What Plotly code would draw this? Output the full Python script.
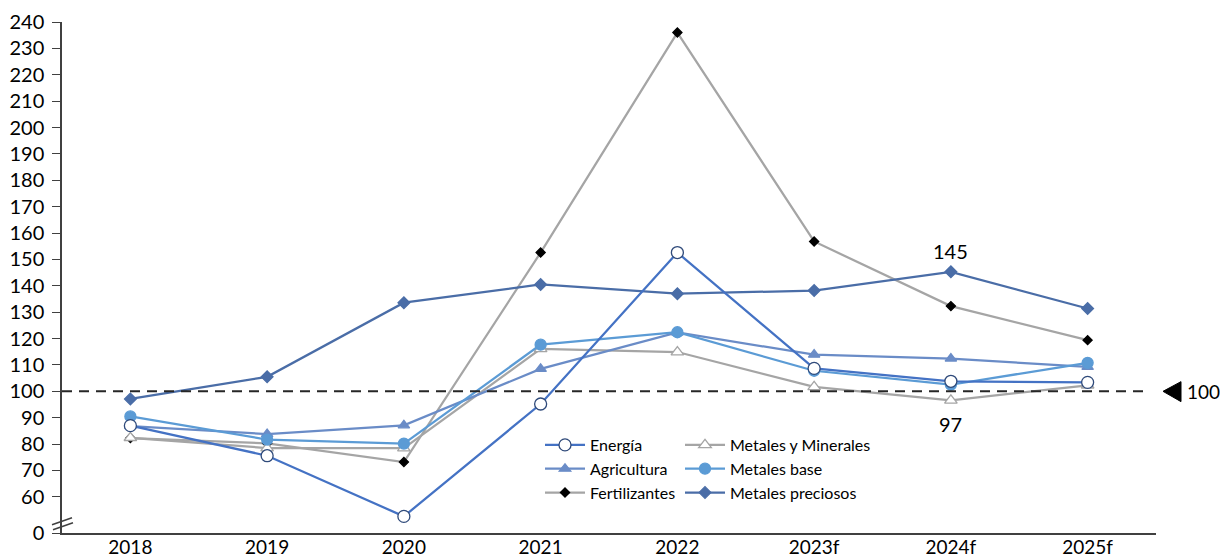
import plotly.graph_objects as go

years = ["2018", "2019", "2020", "2021", "2022", "2023f", "2024f", "2025f"]
energia = [87.0, 75.6, 52.6, 95.2, 152.6, 108.7, 103.8, 103.4]
agricultura = [86.8, 83.8, 87.1, 108.5, 122.3, 113.9, 112.4, 109.3]
fertilizantes = [82.3, 80.3, 73.2, 152.6, 236.0, 156.8, 132.3, 119.4]
metales_minerales = [82.4, 78.5, 78.5, 116.1, 114.9, 101.7, 96.6, 102.3]
metales_base = [90.5, 81.7, 80.2, 117.7, 122.4, 107.8, 102.5, 110.8]
metales_preciosos = [97.1, 105.5, 133.6, 140.5, 137.0, 138.2, 145.3, 131.4]

y_ticks = [46.3, 60, 70, 80, 90, 100, 110, 120, 130, 140, 150, 160, 170, 180,
           190, 200, 210, 220, 230, 240]
y_ticktext = ["0"] + [str(v) for v in y_ticks[1:]]

FONT = "Lato"
fig = go.Figure()

def add(name, vals, color, symbol, size, mcolor, mline, legend, rank, lwidth=2.25):
    fig.add_trace(go.Scatter(
        x=years, y=vals, name=name, mode="lines+markers",
        line=dict(color=color, width=lwidth),
        marker=dict(symbol=symbol, size=size, color=mcolor,
                    line=dict(color=mline, width=1.3)),
        legend=legend, legendrank=rank, cliponaxis=False))

add("Fertilizantes", fertilizantes, "#A5A5A5", "diamond", 7, "#000000", "#000000", "legend", 3)
add("Metales y Minerales", metales_minerales, "#A5A5A5", "triangle-up", 11, "#FFFFFF", "#A5A5A5", "legend2", 1)
add("Agricultura", agricultura, "#6A8CC7", "triangle-up", 10, "#6A8CC7", "#6A8CC7", "legend", 2)
add("Metales preciosos", metales_preciosos, "#4A6DA7", "diamond", 9, "#4A6DA7", "#4A6DA7", "legend2", 3)
add("Metales base", metales_base, "#5B9BD5", "circle", 11, "#5B9BD5", "#5B9BD5", "legend2", 2)
add("Energía", energia, "#4472C4", "circle", 12, "#FFFFFF", "#2F4A7A", "legend", 1)

L, R = 62, 1156
W = R - L

def px(x):
    return (x - L) / W

def dy(py):
    return 100 - (py - 391.7) / 2.636

shapes = [
    dict(type="line", xref="paper", yref="y", x0=0, x1=px(1150), y0=100, y1=100,
         line=dict(color="#262626", width=2, dash="10px,7px")),
    dict(type="path", xref="paper", yref="y",
         path=f"M {px(1163)},100 L {px(1181)},{dy(382)} L {px(1181)},{dy(402)} Z",
         fillcolor="#000000", line=dict(color="#000000", width=1)),
    dict(type="line", xref="paper", yref="y", x0=px(52), x1=px(72), y0=dy(525), y1=dy(518),
         line=dict(color="#404040", width=1.5)),
    dict(type="line", xref="paper", yref="y", x0=px(53), x1=px(73), y0=dy(530), y1=dy(523),
         line=dict(color="#404040", width=1.5)),
]

annotations = [
    dict(x=px(1185), y=100, xref="paper", yref="y", text="100", showarrow=False,
         xanchor="left", font=dict(family=FONT, size=19, color="#000000")),
    dict(x="2024f", y=dy(251), text="145", showarrow=False,
         font=dict(family=FONT, size=20, color="#000000")),
    dict(x="2024f", y=dy(424), text="97", showarrow=False,
         font=dict(family=FONT, size=20, color="#000000")),
]

fig.update_layout(
    width=1220, height=558,
    margin=dict(l=L, r=1220 - R, t=22, b=25),
    paper_bgcolor="white", plot_bgcolor="white",
    font=dict(family=FONT, size=20, color="#000000"),
    showlegend=True,
    shapes=shapes, annotations=annotations,
    xaxis=dict(type="category", range=[-0.5, 7.5], showline=True, linecolor="#404040",
               linewidth=1.5, showgrid=False, ticks="", zeroline=False, automargin=False,
               ticklabelstandoff=-4,
               tickfont=dict(family=FONT, size=19, color="#000000")),
    yaxis=dict(range=[46.3, 240], tickvals=y_ticks, ticktext=y_ticktext,
               showline=True, linecolor="#404040", linewidth=1.5, showgrid=False,
               zeroline=False, ticks="outside", ticklen=8, tickcolor="#404040",
               ticklabelstandoff=4, automargin=False,
               tickfont=dict(family=FONT, size=20, color="#000000")),
    legend=dict(x=px(540), y=(533 - 428) / 511, xanchor="left", yanchor="top",
                bgcolor="rgba(0,0,0,0)", font=dict(family=FONT, size=16),
                itemwidth=40),
    legend2=dict(x=px(680), y=(533 - 428) / 511, xanchor="left", yanchor="top",
                 bgcolor="rgba(0,0,0,0)", font=dict(family=FONT, size=16),
                 itemwidth=40),
)

fig.write_html("out.html", config={"displayModeBar": False},
               post_script="document.body.style.margin='0';document.body.style.overflow='hidden';")
